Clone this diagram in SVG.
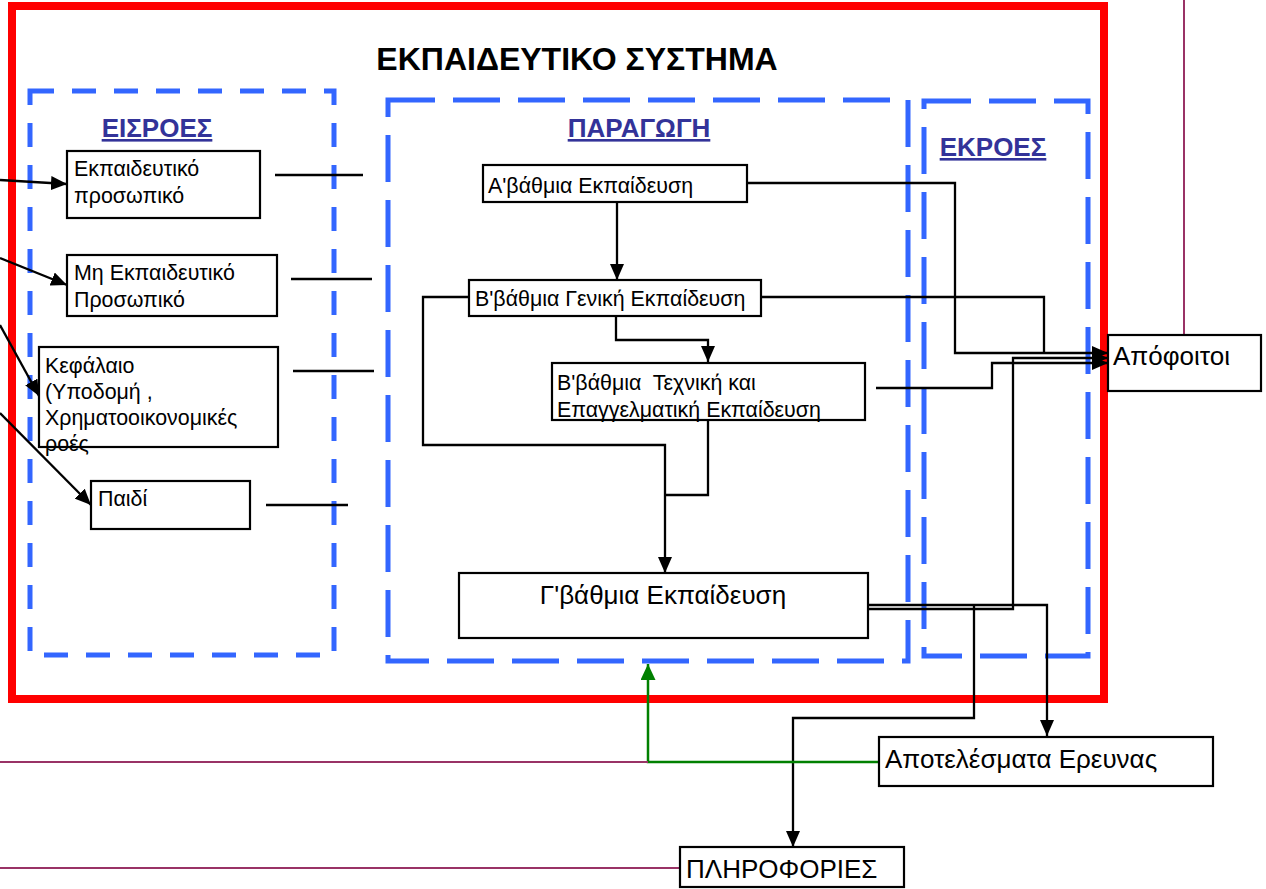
<svg xmlns="http://www.w3.org/2000/svg" width="1266" height="889" viewBox="0 0 1266 889">
  <style>
    text { font-family: "Liberation Sans", Arial, sans-serif; fill: #000; }
    .t { font-size: 21.4px; white-space: pre; }
    .tl { font-size: 26px; }
    .title { font-size: 32px; font-weight: bold; }
    .sec { font-size: 26px; font-weight: bold; fill: #333399; text-decoration: underline; }
    .box { fill: #fff; stroke: #000; stroke-width: 2.2; }
    .zone-s { fill: none; stroke: #3366FF; stroke-width: 5; stroke-dasharray: 24 18; }
    .zone-l { fill: none; stroke: #3366FF; stroke-width: 5; stroke-dasharray: 47 18; }
    .c { fill: none; stroke: #000; stroke-width: 2.3; }
    .g { fill: none; stroke: #008000; stroke-width: 2.5; }
    .p { fill: none; stroke: #993366; stroke-width: 2; }
  </style>
  <defs>
    <marker id="ah" viewBox="0 0 16 14" refX="16" refY="7" markerWidth="16" markerHeight="14" markerUnits="userSpaceOnUse" orient="auto">
      <path d="M0,0 L16,7 L0,14 z" fill="#000"/>
    </marker>
    <marker id="ahg" viewBox="0 0 16 15" refX="16" refY="7.5" markerWidth="16" markerHeight="15" markerUnits="userSpaceOnUse" orient="auto">
      <path d="M0,0 L16,7.5 L0,15 z" fill="#008000"/>
    </marker>
  </defs>

  <rect x="0" y="0" width="1266" height="889" fill="#fff"/>

  <!-- system frame -->
  <g id="system">
    <rect x="12" y="6" width="1092" height="693" fill="none" stroke="#FF0000" stroke-width="8"/>
    <text class="title" x="577" y="70" text-anchor="middle">ΕΚΠΑΙΔΕΥΤΙΚΟ ΣΥΣΤΗΜΑ</text>
  </g>

  <!-- zones -->
  <g id="zone-inputs">
    <rect class="zone-s" x="30" y="91" width="304" height="564"/>
    <text class="sec" x="157" y="137" text-anchor="middle">ΕΙΣΡΟΕΣ</text>
  </g>
  <g id="zone-production">
    <rect class="zone-l" x="388" y="100" width="520" height="561"/>
    <text class="sec" x="639" y="137" text-anchor="middle">ΠΑΡΑΓΩΓΗ</text>
  </g>
  <g id="zone-outputs">
    <rect class="zone-l" x="924" y="101" width="164" height="555"/>
    <text class="sec" x="993" y="156" text-anchor="middle">ΕΚΡΟΕΣ</text>
  </g>

  <!-- connectors -->
  <g id="connectors">
    <!-- incoming arrows -->
    <path class="c" d="M0,180 L67,184" marker-end="url(#ah)"/>
    <path class="c" d="M0,258 L67,285" marker-end="url(#ah)"/>
    <path class="c" d="M0,325 L39,396" marker-end="url(#ah)"/>
    <path class="c" d="M0,413 L91,505" marker-end="url(#ah)"/>
    <!-- input stubs -->
    <path class="c" d="M275,175 H363"/>
    <path class="c" d="M291,279 H372"/>
    <path class="c" d="M293,371 H374"/>
    <path class="c" d="M266,505 H348"/>
    <!-- production flow -->
    <path class="c" d="M617,202 V280" marker-end="url(#ah)"/>
    <path class="c" d="M616,316 V340 H708 V362" marker-end="url(#ah)"/>
    <path class="c" d="M469,297 H423 V445 H665 V573" marker-end="url(#ah)"/>
    <path class="c" d="M708,420 V495 H665"/>
    <!-- to graduates -->
    <path class="c" d="M747,183 H955 V353 H1108" marker-end="url(#ah)"/>
    <path class="c" d="M761,297 H1044 V353"/>
    <path class="c" d="M876,388 H992 V363 H1108" marker-end="url(#ah)"/>
    <path class="c" d="M865,609 H1013 V358 H1108" marker-end="url(#ah)"/>
    <!-- to research results / information -->
    <path class="c" d="M865,605 H1047 V736" marker-end="url(#ah)"/>
    <path class="c" d="M974,605 V718 H793 V847" marker-end="url(#ah)"/>
    <!-- feedback -->
    <path class="g" d="M879,762 H648 V664" marker-end="url(#ahg)"/>
    <path class="p" d="M0,762 H648"/>
    <path class="p" d="M0,868 H680"/>
    <path class="p" d="M1184,0 V335"/>
  </g>

  <!-- input nodes -->
  <g id="teaching-staff">
    <rect class="box" x="67" y="151" width="193" height="67"/>
    <text class="t" x="74" y="176">Εκπαιδευτικό</text>
    <text class="t" x="74" y="203">προσωπικό</text>
  </g>
  <g id="non-teaching-staff">
    <rect class="box" x="67" y="255" width="210" height="61"/>
    <text class="t" x="74" y="280">Μη Εκπαιδευτικό</text>
    <text class="t" x="74" y="307">Προσωπικό</text>
  </g>
  <g id="capital">
    <rect class="box" x="39" y="347" width="239" height="100"/>
    <text class="t" x="45" y="373">Κεφάλαιο</text>
    <text class="t" x="45" y="399">(Υποδομή ,</text>
    <text class="t" x="45" y="425">Χρηματοοικονομικές</text>
    <text class="t" x="45" y="451">ροές</text>
  </g>
  <g id="child">
    <rect class="box" x="91" y="481" width="159" height="48"/>
    <text class="t" x="98" y="506">Παιδί</text>
  </g>

  <!-- production nodes -->
  <g id="primary">
    <rect class="box" x="483" y="165" width="264" height="37"/>
    <text class="t" x="488" y="193">Α'βάθμια Εκπαίδευση</text>
  </g>
  <g id="secondary-general">
    <rect class="box" x="469" y="280" width="292" height="36"/>
    <text class="t" x="475" y="306">Β'βάθμια Γενική Εκπαίδευση</text>
  </g>
  <g id="secondary-technical">
    <rect class="box" x="552" y="363" width="313" height="57"/>
    <text class="t" x="557" y="390">Β'βάθμια  Τεχνική και</text>
    <text class="t" x="557" y="417">Επαγγελματική Εκπαίδευση</text>
  </g>
  <g id="tertiary">
    <rect class="box" x="459" y="573" width="409" height="65"/>
    <text class="tl" x="663" y="604" text-anchor="middle">Γ'βάθμια Εκπαίδευση</text>
  </g>

  <!-- output nodes -->
  <g id="graduates">
    <rect class="box" x="1108" y="335" width="153" height="56"/>
    <text class="tl" x="1113" y="365">Απόφοιτοι</text>
  </g>
  <g id="research-results">
    <rect class="box" x="879" y="737" width="334" height="49"/>
    <text class="tl" x="885" y="768">Αποτελέσματα Ερευνας</text>
  </g>
  <g id="information">
    <rect class="box" x="680" y="847" width="224" height="40"/>
    <text class="tl" x="686" y="878">ΠΛΗΡΟΦΟΡΙΕΣ</text>
  </g>
</svg>
